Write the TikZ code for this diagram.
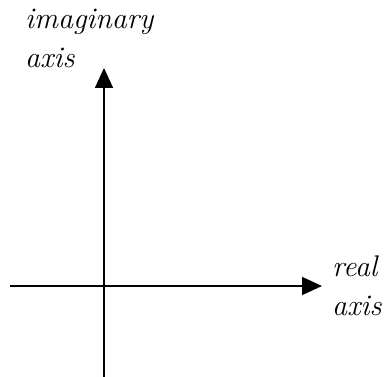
\documentclass[tikz,border=0pt]{standalone}
\usepackage{tikz}
\usetikzlibrary{arrows.meta, positioning}
\tikzset{
  axisline/.style={line width=1.6bp, -{Triangle[length=20bp, width=18bp]}},
  axislabel/.style={align=left, inner sep=0pt, font=\fontsize{30}{39}\selectfont\itshape}
}
\begin{document}
\begin{tikzpicture}[x=1bp, y=1bp]
\useasboundingbox (0,0) rectangle (385,377);

% Axis end points
\coordinate (O) at (104,91);
\coordinate (xstart) at (10,91);
\coordinate (xend) at (322,91);
\coordinate (ystart) at (104,0);
\coordinate (yend) at (104,309);

% Axes
\draw[axisline] (xstart) -- (xend);
\draw[axisline] (ystart) -- (yend);

% Labels
\node[axislabel, right=10bp of xend] (reallabel) {real\\axis};
\node[axislabel, anchor=south west] (imaglabel) at (25,309) {imaginary\\axis};

\end{tikzpicture}
\end{document}
